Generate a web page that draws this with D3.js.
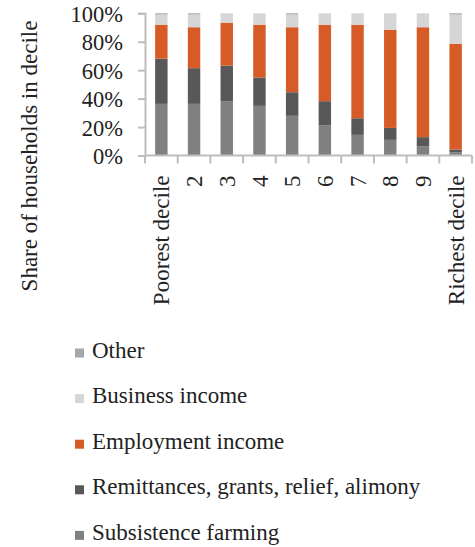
<!DOCTYPE html>
<html><head><meta charset="utf-8">
<script src="https://cdn.jsdelivr.net/npm/d3@7"></script>
</head>
<body style="margin:0">
<svg id="c" width="475" height="547"></svg>
<script>
const deciles = ["Poorest decile","2","3","4","5","6","7","8","9","Richest decile"];
const yTickValues = [0, 0.2, 0.4, 0.6, 0.8, 1.0];
const seriesNames = ["Subsistence farming","Remittances, grants, relief, alimony","Employment income","Business income","Other"];
const seriesColors = ["#808083","#58585a","#d75b26","#d6d6d8","#a7a7a9"];
const subsistence = [36.3, 36.3, 38.2, 34.9, 27.9, 21.3, 14.5, 11.0, 6.3, 2.3];
const remittances = [31.8, 25.1, 25.0, 19.9, 16.6, 16.9, 11.7, 8.4, 6.6, 1.9];
const employment  = [23.9, 28.8, 30.2, 37.2, 45.7, 53.8, 65.8, 69.1, 77.3, 74.3];
const business    = [7.1, 8.9, 6.6, 8.0, 8.9, 8.0, 8.0, 11.5, 9.8, 20.6];
const other       = [0.9, 0.9, 0.0, 0.0, 0.9, 0.0, 0.0, 0.0, 0.0, 0.9];
const yTitle = "Share of households in decile";

const FONT = "Liberation Serif";
const seriesValues = [subsistence, remittances, employment, business, other];
const rows = deciles.map((d, i) => {
  const r = {decile: d};
  seriesNames.forEach((s, j) => r[s] = seriesValues[j][i] / 100);
  return r;
});

const svg = d3.select("#c");
const axisColor = "#bdbdbf";
const x = d3.scaleBand().domain(deciles).range([145, 472]).paddingInner(0.62).paddingOuter(0.31);
const y = d3.scaleLinear().domain([0, 1]).range([155.5, 13.3]);
const color = d3.scaleOrdinal().domain(seriesNames).range(seriesColors);

const layers = d3.stack().keys(seriesNames)(rows);

svg.append("g").selectAll("g").data(layers).join("g")
  .attr("fill", d => color(d.key))
  .selectAll("rect").data(d => d).join("rect")
  .attr("x", d => x(d.data.decile))
  .attr("width", x.bandwidth())
  .attr("y", d => y(d[1]))
  .attr("height", d => Math.max(0, y(d[0]) - y(d[1])));

// y axis
const yAxis = svg.append("g").attr("transform", "translate(145,0)")
  .call(d3.axisLeft(y).tickValues(yTickValues).tickFormat(d3.format(".0%")).tickSize(7).tickPadding(15));
yAxis.attr("font-family", FONT).attr("font-size", 22.5);
yAxis.select(".domain").attr("stroke", axisColor).attr("stroke-width", 2);
yAxis.selectAll(".tick line").attr("stroke", axisColor).attr("stroke-width", 2);
yAxis.selectAll(".tick text").attr("font-family", FONT).attr("font-size", 22.5).attr("fill", "#222").attr("dy", "0.36em");

// x axis
const pad = (x.step() - x.bandwidth()) / 2;
const bounds = deciles.map(d => x(d) - pad).concat([x.range()[1]]);
const xg = svg.append("g");
xg.append("line").attr("x1", x.range()[0]).attr("x2", x.range()[1])
  .attr("y1", y(0)).attr("y2", y(0)).attr("stroke", axisColor).attr("stroke-width", 2);
xg.selectAll("line.t").data(bounds).join("line").attr("class", "t")
  .attr("x1", d => d).attr("x2", d => d)
  .attr("y1", y(0)).attr("y2", y(0) + 8).attr("stroke", axisColor).attr("stroke-width", 2);
xg.selectAll("text").data(deciles).join("text")
  .attr("transform", d => `translate(${x(d) + x.bandwidth() / 2},${y(0) + 20}) rotate(-90)`)
  .attr("text-anchor", "end").attr("dy", "0.35em")
  .attr("font-family", FONT).attr("font-size", 23).attr("fill", "#222")
  .text(d => d);

// y title
svg.append("text")
  .attr("transform", "translate(37,156) rotate(-90)")
  .attr("text-anchor", "middle").attr("font-family", FONT).attr("font-size", 23).attr("fill", "#222")
  .text(yTitle);

// legend
const legendOrder = seriesNames.slice().reverse();
const lg = svg.append("g").selectAll("g").data(legendOrder).join("g")
  .attr("transform", (d, i) => `translate(75,${357.5 + i * 45.6})`);
lg.append("rect").attr("x", 0).attr("y", -9).attr("width", 9).attr("height", 9).attr("fill", d => color(d));
lg.append("text").attr("x", 17).attr("y", 0).attr("font-family", FONT).attr("font-size", 23).attr("fill", "#222").text(d => d);
</script>
</body></html>
